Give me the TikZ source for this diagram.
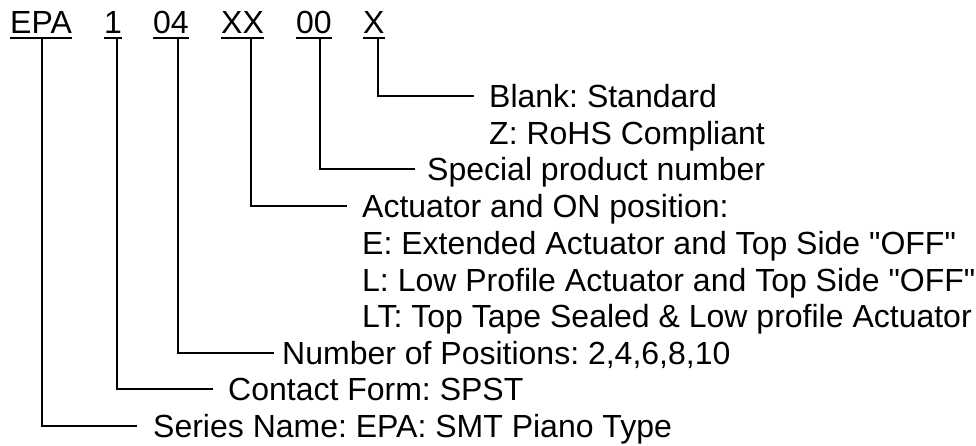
\documentclass[tikz,border=0pt]{standalone}
\usepackage{fontspec}
\setmainfont{Liberation Sans}
\frenchspacing
\begin{document}
\begin{tikzpicture}[
      x=1pt, y=-1pt,
      code/.style={anchor=base west, inner sep=0pt, font=\fontsize{32}{38}\selectfont},
      desc/.style={anchor=west, inner sep=0pt, text height=23pt, text depth=0pt,
        font=\fontsize{32}{38}\selectfont},
      link/.style={line width=1.6pt},
      uline/.style={line width=2.4pt}]
    \useasboundingbox (0,0) rectangle (976,446);
    % part number fields
    \node[code] (epa) at (10,34) {EPA};
    \node[code] (one) at (104,34) {1};
    \node[code] (pos) at (153,34) {04};
    \node[code] (act) at (221,34) {XX};
    \node[code] (spn) at (296,34) {00};
    \node[code] (rohs) at (363,34) {X};
    \foreach \n in {epa,one,pos,act,spn,rohs}
      \draw[uline] ([yshift=-4pt]\n.base west) -- ([yshift=-4pt]\n.base east);
    % descriptions
    \node[desc] (blank) at (489,96) {Blank: Standard};
    \node[desc] (z) at (489,133) {Z: RoHS Compliant};
    \node[desc] (special) at (427,169) {Special product number};
    \node[desc] (actuator) at (362,206) {Actuator and ON position:};
    \node[desc] (ext) at (362,243) {E: Extended Actuator and Top Side \textquotedbl OFF\textquotedbl};
    \node[desc] (low) at (362,280) {L: Low Profile Actuator and Top Side \textquotedbl OFF\textquotedbl};
    \node[desc] (tape) at (362,316) {LT: Top Tape Sealed \& Low profile Actuator};
    \node[desc] (number) at (282,353) {Number of Positions: 2,4,6,8,10};
    \node[desc] (contact) at (228,389) {Contact Form: SPST};
    \node[desc] (series) at (153,426) {Series Name: EPA: SMT Piano Type};
    % connectors
    \foreach \src/\dx/\dst/\gap in {epa/32/series/16, one/13/contact/15,
        pos/25/number/8, act/30/actuator/15, spn/24/special/12, rohs/15/blank/15}
      \draw[link] ([shift={(\dx,4)}]\src.base west) |- ([xshift=-\gap pt]\dst.west);
\end{tikzpicture}
\end{document}
